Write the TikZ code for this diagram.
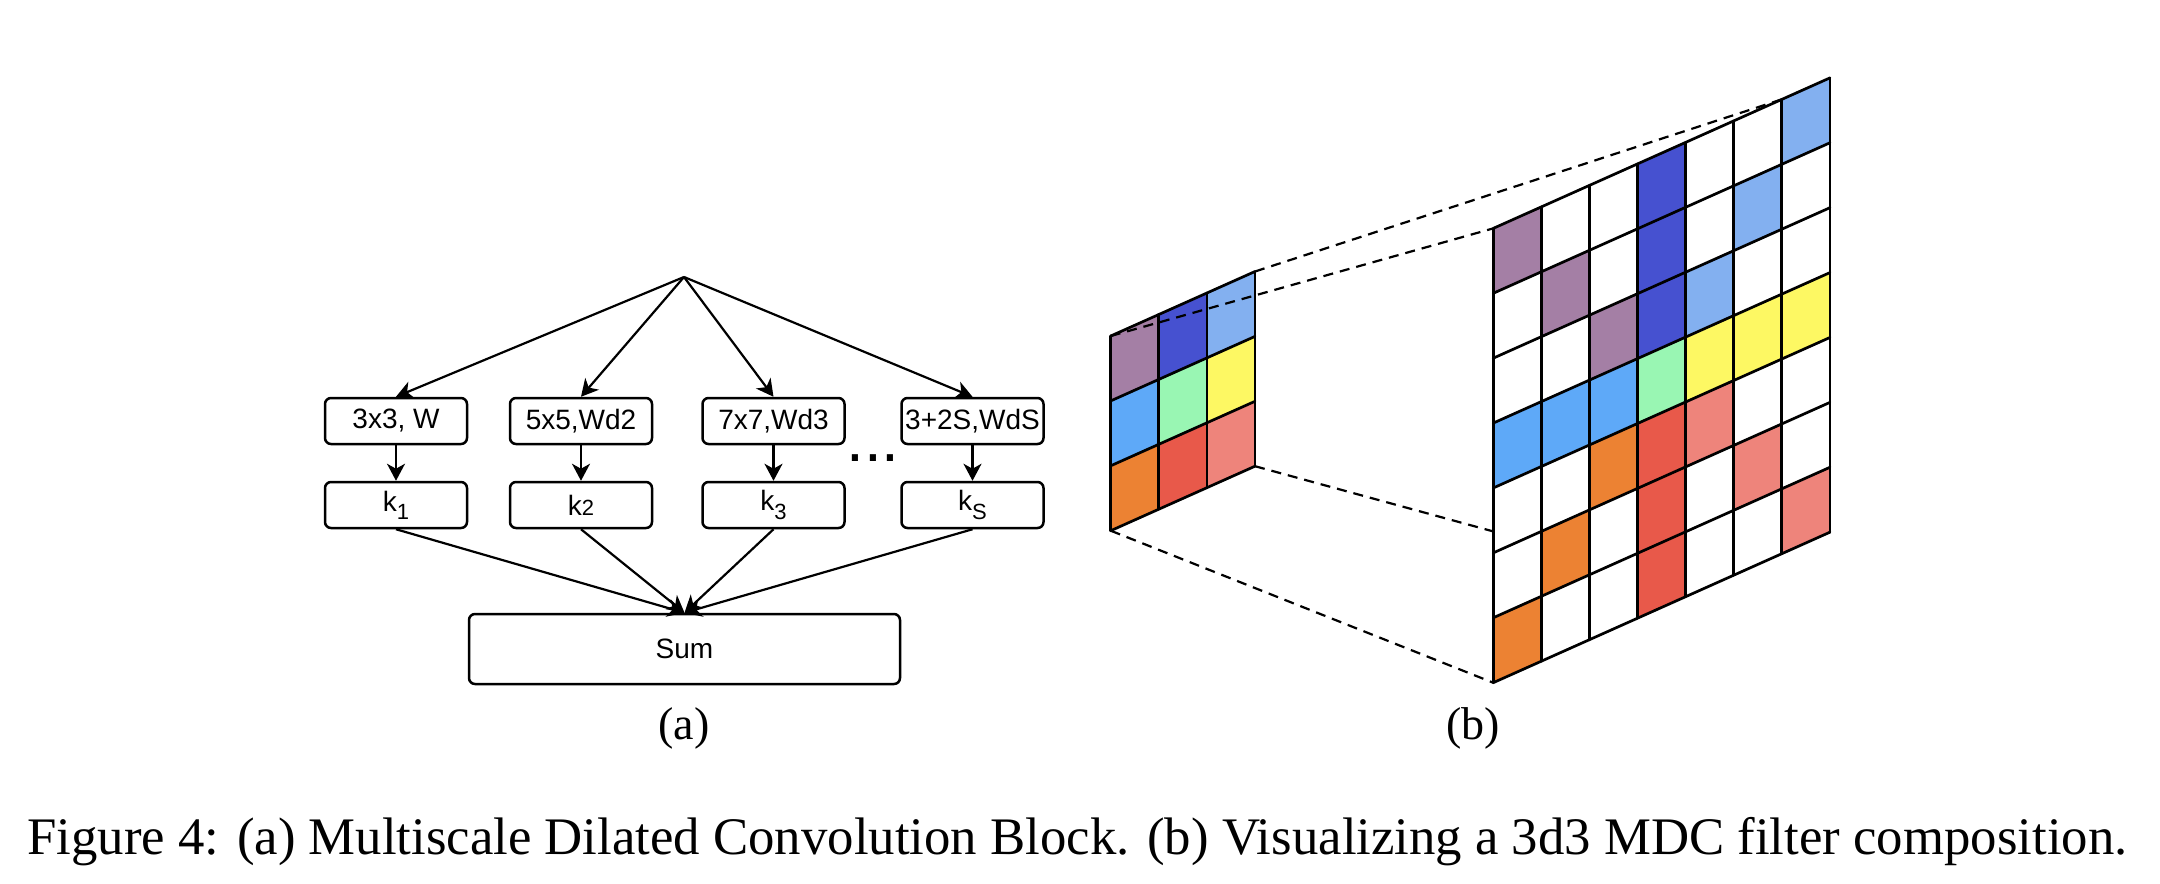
\documentclass[tikz,border=0pt]{standalone}
\usepackage{fontspec}
\usepackage{graphicx}
\setmainfont{Liberation Serif}
\newfontfamily\arialf{Liberation Sans}
\usetikzlibrary{arrows.meta}
\definecolor{cP}{HTML}{A47FA5}
\definecolor{cD}{HTML}{4651D0}
\definecolor{cL}{HTML}{83B0F0}
\definecolor{cM}{HTML}{5EA9F8}
\definecolor{cG}{HTML}{99F6B3}
\definecolor{cY}{HTML}{FDF863}
\definecolor{cO}{HTML}{EC8233}
\definecolor{cR}{HTML}{E8594A}
\definecolor{cS}{HTML}{EE847B}
\definecolor{cW}{HTML}{FFFFFF}
\newcommand\lowsub[1]{\raisebox{-0.55ex}{\fontsize{11}{12}\selectfont #1}}
\newcommand\smallsub[1]{{\fontsize{11}{12}\selectfont #1}}
% #1 x0, #2 y0, #3 col, #4 row, #5 colour
\newcommand\gridcell[5]{%
  \fill[#5] ({#1+48.1*#3},{#2-21.5*#3+64.9*#4}) -- ++(48.1,-21.5) -- ++(0,64.9) -- ++(-48.1,21.5) -- cycle;}
% #1 x0, #2 y0, #3 N
\newcommand\gridlines[3]{%
  \foreach \k in {0,...,#3}{
    \draw[gridline] ({#1+48.1*\k},{#2-21.5*\k}) -- ++(0,{64.9*#3});
    \draw[gridline] (#1,{#2+64.9*\k}) -- ++({48.1*#3},{-21.5*#3});
  }}
\begin{document}
\begin{tikzpicture}[x=0.5pt,y=-0.5pt,
  box/.style={draw, rounded corners=3pt, line width=1.25pt, minimum width=71pt, minimum height=23pt, inner sep=0pt, font=\arialf\fontsize{14}{16}\selectfont},
  arr/.style={line width=1.1pt, -{Stealth[length=8.5pt,width=9pt,inset=2.5pt]}},
  dashline/.style={line width=1.1pt, dash pattern=on 5pt off 3.5pt},
  gridline/.style={line width=1.35pt, line cap=round, line join=round},
  lbl/.style={font=\fontsize{23}{27}\selectfont, inner sep=0pt}]
\useasboundingbox (0,0) rectangle (2160,884);

% ---------- (a) ----------
\coordinate (top) at (684,277);
\node[box] (c1) at (396,421) {3x3, W};
\node[box] (c2) at (581,421) {5x5,Wd2};
\node[box] (c3) at (773.5,421) {7x7,Wd3};
\node[box] (c4) at (972.5,421) {3+2S,WdS};
\node[box] (k1) at (396,505) {k\lowsub{1}};
\node[box] (k2) at (581,505) {k\smallsub{2}};
\node[box] (k3) at (773.5,505) {k\lowsub{3}};
\node[box] (k4) at (972.5,505) {k\lowsub{S}};
\node[box, minimum width=215.5pt, minimum height=35pt] (sum) at (684.5,649) {Sum};
\node[font=\arialf\fontsize{32}{32}\selectfont, anchor=base, inner sep=0pt] (dots) at (873,461) {...};
\foreach \n in {c1,c2,c3,c4} \draw[arr] (top) -- (\n.north);
\draw[arr] (c1) -- (k1);
\draw[arr] (c2) -- (k2);
\draw[arr] (c3) -- (k3);
\draw[arr] (c4) -- (k4);
\foreach \n in {k1,k2,k3,k4} \draw[arr] (\n.south) -- (sum.north);
\node[lbl, anchor=base] (la) at (684,739) {(a)};

% ---------- (b) ----------
\coordinate (sTL) at (1110.7,336);
\coordinate (sTR) at (1255,271.5);
\coordinate (sBR) at (1255,466.2);
\coordinate (sBL) at (1110.7,530.7);
\coordinate (bTL) at (1493.2,228.4);
\coordinate (bT6) at (1781.8,99.4);
\coordinate (bL5) at (1493.2,531.4);
\coordinate (bBL) at (1493.2,682.7);

% small grid
\foreach \row [count=\r from 0] in {{P,D,L},{M,G,Y},{O,R,S}}{
  \foreach \col [count=\c from 0] in \row {
    \gridcell{1110.7}{336}{\c}{\r}{c\col}
  }}
\gridlines{1110.7}{336}{3}

% dashed projection lines
\draw[dashline] (sTR) -- (bT6);
\draw[dashline] (sTL) -- (bTL);
\draw[dashline] (sBR) -- (bL5);
\draw[dashline] (sBL) -- (bBL);

% big grid
\foreach \row [count=\r from 0] in {{P,W,W,D,W,W,L},{W,P,W,D,W,L,W},{W,W,P,D,L,W,W},{M,M,M,G,Y,Y,Y},{W,W,O,R,S,W,W},{W,O,W,R,W,S,W},{O,W,W,R,W,W,S}}{
  \foreach \col [count=\c from 0] in \row {
    \gridcell{1493.2}{228.4}{\c}{\r}{c\col}
  }}
\gridlines{1493.2}{228.4}{7}

\node[lbl, anchor=base] (lb) at (1473,739) {(b)};

% caption
\node[inner sep=0pt, anchor=base west] (cap) at (27,854) {\resizebox{1050pt}{!}{\fontsize{26}{30}\selectfont Figure 4: (a) Multiscale Dilated Convolution Block. (b) Visualizing a 3d3 MDC filter composition.}};
\end{tikzpicture}
\end{document}
